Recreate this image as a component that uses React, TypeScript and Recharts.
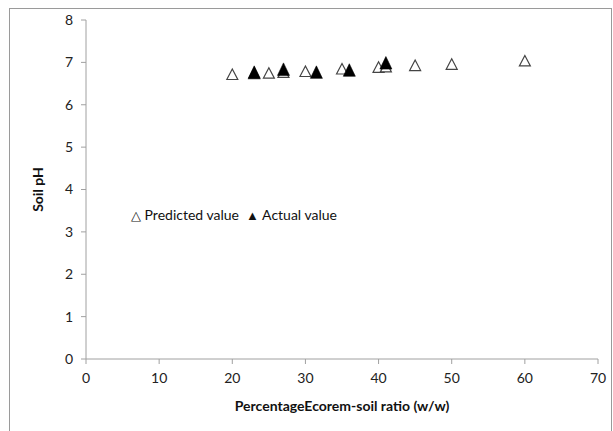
import React from "react";
import { ScatterChart, Scatter, XAxis, YAxis, Legend } from "recharts";

// x = % Ecorem-soil ratio (w/w), y = soil pH
const predictedX = [20, 23, 25, 27, 30, 35, 40, 41, 45, 50, 60];
const predictedPH = [6.72, 6.74, 6.75, 6.77, 6.79, 6.85, 6.89, 6.9, 6.93, 6.96, 7.04];
const actualX = [23, 27, 31.5, 36, 41];
const actualPH = [6.77, 6.84, 6.77, 6.82, 6.99];
const xTicks = [0, 10, 20, 30, 40, 50, 60, 70];
const yTicks = [0, 1, 2, 3, 4, 5, 6, 7, 8];

const predicted = predictedX.map((x, i) => ({ x, y: predictedPH[i] }));
const actual = actualX.map((x, i) => ({ x, y: actualPH[i] }));

const FONT = "Lato, 'Open Sans', sans-serif";
const AXIS = "#a0a0a0";

function triPath(cx: number, cy: number, w: number, h: number) {
  return `M${cx - w / 2},${cy + h / 2} L${cx},${cy - h / 2} L${cx + w / 2},${cy + h / 2} Z`;
}

const HollowTri = (props: any) => (
  <path d={triPath(props.cx, props.cy, 11, 10.5)} fill="#fff" stroke="#444" strokeWidth={1.2} />
);

const SolidTri = (props: any) => (
  <path d={triPath(props.cx, props.cy, 12, 12.5)} fill="#000" stroke="#000" strokeWidth={0.6} />
);

function LegendBox() {
  return (
    <div style={{ fontFamily: FONT, fontSize: 14, color: "#111", whiteSpace: "nowrap" }}>
      <span style={{ fontSize: 13 }}>△</span> Predicted value&nbsp;&nbsp;
      <span style={{ fontSize: 13 }}>▲</span> Actual value
    </div>
  );
}

export default function App() {
  return (
    <div style={{ position: "relative", width: 613, height: 431, background: "#fff", overflow: "hidden" }}>
      <style>{"body{margin:0}"}</style>
      <div
        style={{
          position: "absolute",
          left: 9,
          top: 8,
          width: 601,
          height: 440,
          border: "1px solid #9a9a9a",
        }}
      />
      <div style={{ position: "absolute", left: 0, top: 0 }}>
        <ScatterChart width={613} height={431} margin={{ top: 20, right: 15, left: 0, bottom: 0 }}>
          <XAxis
            type="number"
            dataKey="x"
            domain={[0, 70]}
            ticks={xTicks}
            height={55}
            stroke={AXIS}
            tickSize={5}
            tickMargin={9}
            tick={{ fill: "#222", fontSize: 14, fontFamily: FONT }}
            label={{
              value: "PercentageEcorem-soil ratio (w/w)",
              position: "insideBottom",
              offset: 3,
              style: { fill: "#111", fontSize: 14, fontWeight: 700, fontFamily: FONT },
            }}
          />
          <YAxis
            type="number"
            dataKey="y"
            domain={[0, 8]}
            ticks={yTicks}
            width={86}
            stroke={AXIS}
            tickSize={5}
            tickMargin={8}
            tick={{ fill: "#222", fontSize: 14, fontFamily: FONT }}
            label={{
              value: "Soil pH",
              angle: -90,
              position: "insideLeft",
              offset: 38,
              style: { textAnchor: "middle", fill: "#111", fontSize: 14, fontWeight: 700, fontFamily: FONT },
            }}
          />
          <Legend
            content={() => <LegendBox />}
            wrapperStyle={{ position: "absolute", left: 131, top: 206, width: "auto" }}
          />
          <Scatter name="Predicted value" data={predicted} shape={HollowTri} isAnimationActive={false} />
          <Scatter name="Actual value" data={actual} shape={SolidTri} isAnimationActive={false} />
        </ScatterChart>
      </div>
    </div>
  );
}
